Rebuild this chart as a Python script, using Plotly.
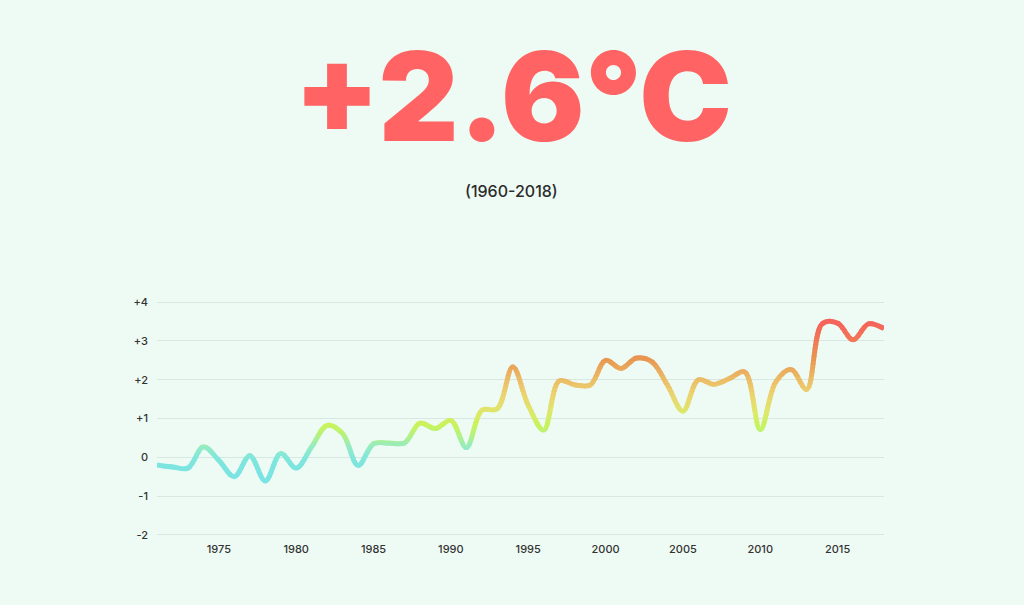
import plotly.graph_objects as go

# ---- data ----
years = list(range(1971, 2019))
anomaly = [-0.20, -0.25, -0.28, 0.27, -0.08, -0.50, 0.04, -0.61, 0.10, -0.28,
           0.27, 0.82, 0.61, -0.21, 0.35, 0.37, 0.37, 0.88, 0.74, 0.95,
           0.25, 1.21, 1.25, 2.33, 1.34, 0.70, 1.97, 1.87, 1.86, 2.50,
           2.29, 2.56, 2.46, 1.86, 1.19, 2.00, 1.88, 2.03, 2.20, 0.71,
           1.94, 2.26, 1.75, 3.44, 3.46, 3.03, 3.44, 3.32]
y_tickvals = [-2, -1, 0, 1, 2, 3, 4]
y_ticktext = ["-2", "-1", "0", "+1", "+2", "+3", "+4"]
x_tickvals = [1975, 1980, 1985, 1990, 1995, 2000, 2005, 2010, 2015]
headline = "+2.6°C"
subtitle = "(1960-2018)"

# ---- styling ----
BG = "#eefbf4"
Y_MIN, Y_MAX = -2.03, 4.03
color_stops = [(-0.7, (120, 226, 230)), (0.0, (128, 230, 220)), (0.3, (149, 236, 192)),
               (0.6, (184, 242, 124)), (0.85, (201, 243, 92)), (1.2, (223, 230, 108)),
               (1.7, (236, 208, 112)), (2.2, (234, 176, 96)), (2.6, (232, 148, 80)),
               (3.0, (240, 122, 85)), (3.5, (245, 98, 92))]


def color_at(v):
    if v <= color_stops[0][0]:
        c = color_stops[0][1]
    elif v >= color_stops[-1][0]:
        c = color_stops[-1][1]
    else:
        for (a, ca), (b, cb) in zip(color_stops, color_stops[1:]):
            if a <= v <= b:
                t = (v - a) / (b - a)
                c = tuple(ca[k] + (cb[k] - ca[k]) * t for k in range(3))
                break
    return "rgb(%d,%d,%d)" % tuple(round(x) for x in c)


def frac(v):
    return (v - Y_MIN) / (Y_MAX - Y_MIN)


fig = go.Figure()

# base subplot (gridlines + tick labels); the line here is transparent
fig.add_trace(go.Scatter(x=years, y=anomaly, mode="lines", xaxis="x", yaxis="y",
                         line=dict(color="rgba(0,0,0,0)", width=5, shape="spline"),
                         hoverinfo="skip", showlegend=False))

layout_axes = {}
# gradient line: the same spline drawn in thin horizontal bands, each clipped
# to its own y-subplot and coloured by the band's value
band_lo, band_hi, step, eps = -0.9, 3.8, 0.1, 0.015
n_bands = int(round((band_hi - band_lo) / step))
for i in range(n_bands):
    v0 = band_lo + i * step
    v1 = v0 + step
    a, b = v0 - eps, v1 + eps
    name = "yaxis%d" % (i + 2)
    layout_axes[name] = dict(domain=[frac(a), frac(b)], range=[a, b], anchor="x",
                             visible=False, showgrid=False, zeroline=False, fixedrange=True)
    fig.add_trace(go.Scatter(x=years, y=anomaly, mode="lines", xaxis="x", yaxis="y%d" % (i + 2),
                             line=dict(color=color_at((v0 + v1) / 2), width=5,
                                       shape="spline", smoothing=1.0),
                             hoverinfo="skip", showlegend=False))

fig.update_layout(
    width=1024, height=605,
    paper_bgcolor=BG, plot_bgcolor="rgba(0,0,0,0)",
    margin=dict(l=157, r=140, t=301, b=69),
    showlegend=False,
    font=dict(family="Inter, Roboto, sans-serif", color="#333333", size=11),
    xaxis=dict(range=[1971, 2018], tickvals=x_tickvals, showgrid=False, zeroline=False,
               showline=False, ticks="", anchor="y", ticklabelstandoff=5,
               tickfont=dict(size=11, color="#333333", weight=500)),
    yaxis=dict(range=[Y_MIN, Y_MAX], domain=[0, 1], tickvals=y_tickvals,
               ticktext=y_ticktext, showgrid=True, gridcolor="#d6e8e1", gridwidth=1,
               zeroline=False, showline=False, ticks="", ticklabelstandoff=8,
               tickfont=dict(size=11, color="#333333", weight=500)),
    **layout_axes,
)

# headline and subtitle
fig.add_annotation(text=headline, xref="paper", yref="paper", x=0.49, y=1.872,
                   xanchor="center", yanchor="middle", showarrow=False,
                   font=dict(family="Inter", size=124, color="#ff6363", weight=900))
fig.add_annotation(text=subtitle, xref="paper", yref="paper", x=0.488, y=1.47,
                   xanchor="center", yanchor="middle", showarrow=False,
                   font=dict(family="Inter", size=16, color="#2b2b2b", weight=500))

fig.write_html("out.html", config={"displayModeBar": False},
               post_script="document.body.style.margin='0';document.body.style.background='%s';" % BG)
